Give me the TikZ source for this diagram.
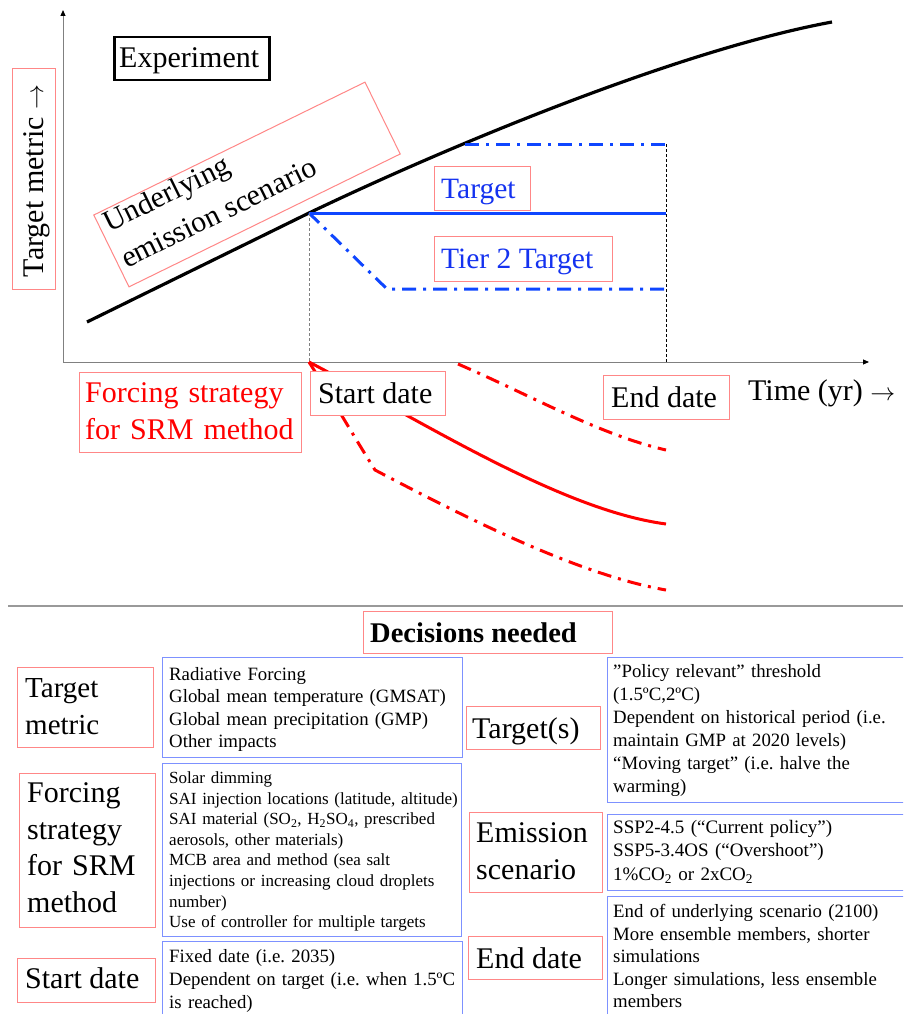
\documentclass[tikz,border=0pt]{standalone}
\usepackage{fontspec}
\setmainfont{Liberation Serif}
\usetikzlibrary{arrows.meta}
\frenchspacing
\definecolor{boxred}{RGB}{255,135,135}
\definecolor{boxblue}{RGB}{125,145,255}
\definecolor{lineblue}{RGB}{15,70,255}
\definecolor{txtblue}{RGB}{20,50,240}
\definecolor{txtred}{RGB}{255,0,0}
\definecolor{axisgray}{RGB}{128,128,128}
\begin{document}
\begin{tikzpicture}[x=1pt,y=-1pt,
  redbox/.style={draw=boxred, line width=1pt, fill=white, inner sep=0pt, anchor=north west},
  bluebox/.style={draw=boxblue, line width=1.2pt, fill=white, inner sep=0pt, anchor=north west},
  lbl/.style={inner sep=0pt, anchor=base west},
  mlbl/.style={inner sep=0pt, anchor=north west, align=left, text width=#1},
  big/.style={font=\fontsize{30}{37}\selectfont},
  axisline/.style={draw=axisgray, line width=1pt, -{Triangle[length=6pt,width=5pt,color=black]}},
  blackcurve/.style={draw=black, line width=3.2pt},
  bluesolid/.style={draw=lineblue, line width=3pt},
  bluedd/.style={draw=lineblue, line width=3pt, dash pattern=on 14pt off 7pt on 3pt off 7pt},
  redsolid/.style={draw=txtred, line width=3pt},
  reddd/.style={draw=txtred, line width=3pt, dash pattern=on 14pt off 7pt on 3pt off 7pt},
  vdash/.style={line width=1pt, dash pattern=on 3pt off 2pt}
]
\useasboundingbox (0,0) rectangle (903,1014);
\clip (0,0) rectangle (903,1014);

% axes
\coordinate (O) at (63,362);
\coordinate (Ytip) at (63,10);
\coordinate (Xtip) at (869,362);
\draw[axisline] (O) -- (Ytip);
\draw[axisline] (O) -- (Xtip);

% underlying scenario curve
\coordinate (B0) at (87,322);
\coordinate (S) at (309,213);
\coordinate (B1) at (832,22);
\draw[blackcurve] (B0) -- (S) .. controls (451,145) and (680,50) .. (B1);

% blue targets
\coordinate (T1) at (666,213);
\coordinate (U0) at (465,144);
\coordinate (U1) at (666,144);
\coordinate (L1) at (387,289);
\coordinate (L2) at (666,289);
\draw[bluesolid] (S) -- (T1);
\draw[bluedd] (U0) -- (U1);
\draw[bluedd] (S) -- (L1) -- (L2);

% verticals
\coordinate (S0) at (309,362);
\coordinate (E0) at (666,362);
\draw[vdash, draw=axisgray] (S) -- (S0);
\draw[vdash, draw=black] (U1) -- (E0);

% red forcing
\coordinate (R1) at (666,524);
\coordinate (RU0) at (458,364);
\coordinate (RU1) at (666,450);
\coordinate (RL1) at (375,470);
\coordinate (RL2) at (666,590);
\draw[redsolid] (S0) .. controls (420,420) and (560,510) .. (R1);
\draw[reddd] (RU0) .. controls (530,395) and (600,435) .. (RU1);
\draw[reddd] (S0) .. controls (328,392) and (356,440) .. (RL1) .. controls (470,520) and (580,575) .. (RL2);

% top labels
\node[draw=black, line width=2.5pt, fill=white, inner sep=0pt, anchor=north west, minimum width=155pt, minimum height=43pt] (expbox) at (113,36) {};
\node[lbl, big] (exptxt) at (119,68) {Experiment};

\node[redbox, minimum width=43pt, minimum height=221pt] (tmbox) at (12,68) {};
\node[big, inner sep=0pt, anchor=base, rotate=90] (tmtxt) at (43,181) {Target metric $\rightarrow$};

\node[draw=boxred, line width=1pt, fill=white, inner sep=0pt, rotate=26.1, minimum width=302pt, minimum height=80pt] (uesbox) at (247,184.5) {};
\node[inner sep=0pt, anchor=north west, align=left, rotate=26.1, font=\fontsize{30}{40}\selectfont] (uestxt) at (100,213.7) {Underlying\\emission scenario};

\node[redbox, minimum width=96pt, minimum height=44pt] (tgbox) at (434,166) {};
\node[lbl, text=txtblue, font=\fontsize{29.5}{36}\selectfont] (tgtxt) at (441,198) {Target};
\node[redbox, minimum width=178pt, minimum height=45pt] (t2box) at (434,236) {};
\node[lbl, text=txtblue, font=\fontsize{29.5}{36}\selectfont] (t2txt) at (441,268) {Tier 2 Target};

\node[redbox, minimum width=222pt, minimum height=80pt] (fsbox) at (79,372) {};
\node[mlbl=215pt, big, text=txtred] (fstxt) at (85,382.5) {Forcing strategy\\for SRM method};

\node[redbox, minimum width=135pt, minimum height=44pt] (sdbox) at (310,371) {};
\node[lbl, big] (sdtxt) at (318,403) {Start date};
\node[redbox, minimum width=126pt, minimum height=44pt] (edbox) at (603,375) {};
\node[lbl, big] (edtxt) at (611,407) {End date};
\node[lbl, big] (timetxt) at (748,400) {Time (yr) $\rightarrow$};

% separator
\coordinate (sepL) at (8,606);
\coordinate (sepR) at (903,606);
\draw[draw=axisgray!80, line width=1.5pt] (sepL) -- (sepR);

% bottom table
\node[redbox, minimum width=249pt, minimum height=42pt] (dnbox) at (363,611) {};
\node[lbl, font=\fontsize{28.5}{34}\selectfont\bfseries] (dntxt) at (370,642) {Decisions needed};

\node[redbox, minimum width=136pt, minimum height=80pt] (k1box) at (17,667) {};
\node[mlbl=130pt, font=\fontsize{29}{37}\selectfont] (k1txt) at (25,678.8) {Target\\metric};
\node[bluebox, minimum width=300pt, minimum height=100pt] (v1box) at (162,657) {};
\node[mlbl=295pt, font=\fontsize{18.8}{22.4}\selectfont] (v1txt) at (169,667.2) {Radiative Forcing\\Global mean temperature (GMSAT)\\Global mean precipitation (GMP)\\Other impacts};

\node[redbox, minimum width=136pt, minimum height=154pt] (k2box) at (19,773) {};
\node[mlbl=130pt, font=\fontsize{30}{36.7}\selectfont] (k2txt) at (27,782.5) {Forcing\\strategy\\for SRM\\method};
\node[bluebox, minimum width=299pt, minimum height=173pt] (v2box) at (162,763) {};
\node[mlbl=295pt, font=\fontsize{17}{20.6}\selectfont] (v2txt) at (169,771.4) {Solar dimming\\SAI injection locations (latitude, altitude)\\SAI material (SO\textsubscript{2}, H\textsubscript{2}SO\textsubscript{4}, prescribed\\aerosols, other materials)\\MCB area and method (sea salt\\injections or increasing cloud droplets\\number)\\Use of controller for multiple targets};

\node[redbox, minimum width=138pt, minimum height=44pt] (k3box) at (17,958) {};
\node[lbl, big] (k3txt) at (25,988) {Start date};
\node[bluebox, minimum width=300pt, minimum height=90pt] (v3box) at (162,941) {};
\node[mlbl=295pt, font=\fontsize{18.8}{23}\selectfont] (v3txt) at (169,949) {Fixed date (i.e. 2035)\\Dependent on target (i.e. when 1.5ºC\\is reached)};

\node[redbox, minimum width=134pt, minimum height=43pt] (k4box) at (466,706) {};
\node[lbl, big] (k4txt) at (472,738) {Target(s)};
\node[bluebox, minimum width=305pt, minimum height=145pt] (v4box) at (607,657) {};
\node[mlbl=290pt, font=\fontsize{18.8}{23}\selectfont] (v4txt) at (613,664) {”Policy relevant” threshold\\(1.5ºC,2ºC)\\Dependent on historical period (i.e.\\maintain GMP at 2020 levels)\\“Moving target” (i.e. halve the\\warming)};

\node[redbox, minimum width=133pt, minimum height=80pt] (k5box) at (469,812) {};
\node[mlbl=130pt, font=\fontsize{30}{37}\selectfont] (k5txt) at (476,822.5) {Emission\\scenario};
\node[bluebox, minimum width=305pt, minimum height=76pt] (v5box) at (607,814) {};
\node[mlbl=290pt, font=\fontsize{19}{23.5}\selectfont] (v5txt) at (613,820) {SSP2-4.5 (“Current policy”)\\SSP5-3.4OS (“Overshoot”)\\1\%CO\textsubscript{2} or 2xCO\textsubscript{2}};

\node[redbox, minimum width=134pt, minimum height=43pt] (k6box) at (468,936) {};
\node[lbl, big] (k6txt) at (476,968) {End date};
\node[bluebox, minimum width=305pt, minimum height=130pt] (v6box) at (607,896) {};
\node[mlbl=290pt, font=\fontsize{18.8}{22.6}\selectfont] (v6txt) at (613,904) {End of underlying scenario (2100)\\More ensemble members, shorter\\simulations\\Longer simulations, less ensemble\\members};
\end{tikzpicture}
\end{document}
